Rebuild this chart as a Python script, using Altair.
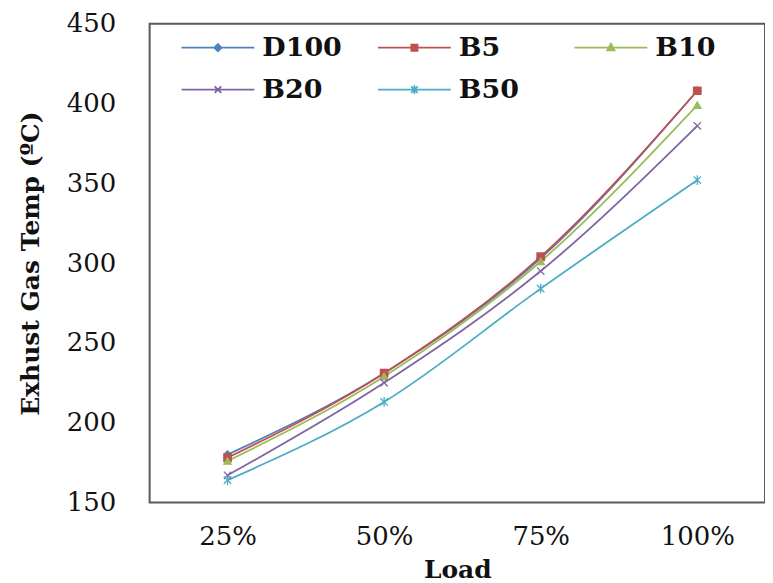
import altair as alt
import pandas as pd

# values
load = ["25%", "50%", "75%", "100%"]
fuels = ["D100", "B5", "B10", "B20", "B50"]
d100 = [180, 231, 303, 408]
b5 = [178, 231, 304, 408]
b10 = [176, 229, 301, 399]
b20 = [167, 225, 295, 386]
b50 = [164, 213, 284, 352]
colors = ["#4F81BD", "#C0504D", "#9BBB59", "#8064A2", "#4BACC6"]

# plot markers: diamond, square, triangle, x, asterisk
marks = ["diamond", "square", "triangle-up",
         "M-1,-1L1,1M-1,1L1,-1",
         "M-1,-1L1,1M-1,1L1,-1M0,-1.3V1.3"]
# legend symbols: line with the marker in the middle
leg_marks = ["M-1,0H1M0,-0.1L0.1,0L0,0.1L-0.1,0Z",
             "M-1,0H1M-0.085,-0.085H0.085V0.085H-0.085Z",
             "M-1,0H1M0,-0.11L0.1,0.075H-0.1Z",
             "M-1,0H1M-0.09,-0.09L0.09,0.09M-0.09,0.09L0.09,-0.09",
             "M-1,0H1M-0.09,-0.09L0.09,0.09M-0.09,0.09L0.09,-0.09M0,-0.12V0.12"]

temps = dict(zip(fuels, [d100, b5, b10, b20, b50]))
rows = []
for f in fuels:
    for l, t in zip(load, temps[f]):
        rows.append({"Load": l, "Fuel": f, "Temp": t})
df = pd.DataFrame(rows)

FONT = "DejaVu Serif"

x = alt.X("Load:N", sort=load,
          scale=alt.Scale(type="point", padding=0.465, align=0.535),
          axis=alt.Axis(title="Load", labelAngle=0, labelPadding=21,
                        titlePadding=8))
y = alt.Y("Temp:Q",
          scale=alt.Scale(domain=[150, 450], nice=False, zero=False),
          axis=alt.Axis(title="Exhust Gas Temp (ºC)",
                        values=[150, 200, 250, 300, 350, 400, 450],
                        labelPadding=34, titlePadding=23))

cscale = alt.Scale(domain=fuels, range=colors)

base = alt.Chart(df).encode(x=x, y=y)

lines = base.mark_line(interpolate="monotone", strokeWidth=1.8).encode(
    color=alt.Color("Fuel:N", scale=cscale, legend=None),
    detail="Fuel:N",
)

points = base.mark_point(filled=True, size=55, strokeWidth=1.3, opacity=1).encode(
    color=alt.Color("Fuel:N", scale=cscale, legend=None),
    stroke=alt.Stroke("Fuel:N", scale=cscale, legend=None),
    shape=alt.Shape("Fuel:N", scale=alt.Scale(domain=fuels, range=marks), legend=None),
)

leg = alt.Legend(title=None, orient="none", legendX=31, legendY=3,
                 direction="horizontal", columns=3, gridAlign="all",
                 columnPadding=35, rowPadding=0, clipHeight=42,
                 symbolSize=5329, symbolStrokeWidth=1.8, labelOffset=7,
                 labelFont=FONT, labelFontSize=27, labelFontWeight="bold",
                 labelColor="#111", padding=0)

legend_layer = base.mark_point(filled=True, strokeWidth=1.8, opacity=1).encode(
    color=alt.Color("Fuel:N", scale=cscale, legend=leg),
    stroke=alt.Stroke("Fuel:N", scale=cscale, legend=leg),
    shape=alt.Shape("Fuel:N", scale=alt.Scale(domain=fuels, range=leg_marks), legend=leg),
).transform_filter("datum.Temp < 0")

chart = alt.layer(lines, points, legend_layer).resolve_scale(
    color="independent", stroke="independent", shape="independent"
).properties(
    width=617, height=480,
    padding={"left": 10, "top": 2, "right": 0, "bottom": 0},
).configure_view(
    stroke="#595959", strokeWidth=2
).configure_axis(
    grid=False, ticks=False, domain=False,
    labelFont=FONT, labelFontSize=26, labelColor="#111",
    titleFont=FONT, titleFontSize=25, titleFontWeight="bold", titleColor="#111",
)

chart.save("out.html", embed_options={"renderer": "svg", "actions": False})
